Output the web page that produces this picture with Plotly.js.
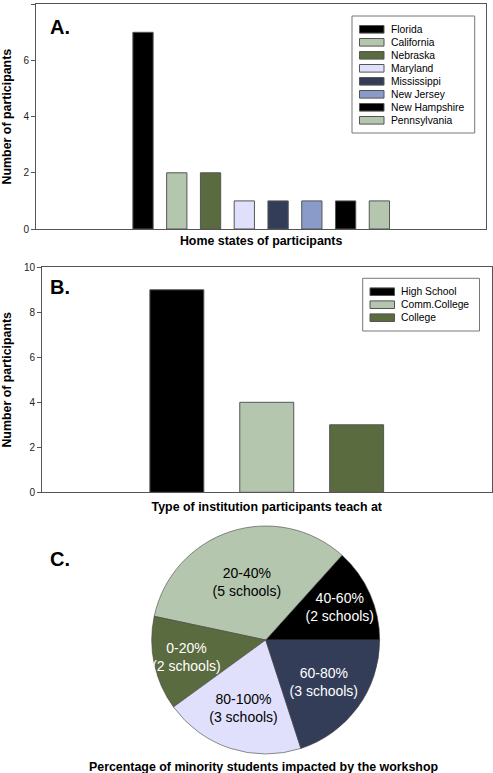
<!DOCTYPE html>
<html><head><meta charset="utf-8">
<script src="https://cdn.plot.ly/plotly-3.0.1.min.js"></script>
<style>html,body{margin:0;padding:0;background:#fff;} #chart{width:493px;height:773px;}</style>
</head><body><div id="chart"></div>
<script>
const W = 493, H = 773;
const FONT = 'Liberation Sans, Arial, Helvetica, sans-serif';

// Panel A data
const states = ['Florida','California','Nebraska','Maryland','Mississippi','New Jersey','New Hampshire','Pennsylvania'];
const stateCounts = [7,2,2,1,1,1,1,1];
const stateColors = ['#000000','#b4c6ae','#5b6b40','#e0e0fc','#333d58','#8a9bc9','#000000','#b4c6ae'];
const stateTicks = [0,2,4,6,8];

// Panel B data
const institutions = ['High School','Comm.College','College'];
const institutionCounts = [9,4,3];
const institutionColors = ['#000000','#b4c6ae','#5b6b40'];
const institutionTicks = [0,2,4,6,8,10];

// Panel C data
const minorityRanges = ['40-60%','20-40%','0-20%','80-100%','60-80%'];
const minoritySchools = [2,5,2,3,3];
const minorityColors = ['#000000','#b4c6ae','#5b6b40','#e0e0fc','#333d58'];
const minorityTextColors = ['#ffffff','#000000','#ffffff','#000000','#ffffff'];

const px = x => x / W;
const py = y => 1 - y / H;

const data = [];
states.forEach((s, i) => data.push({
  type: 'bar', name: s, x: [i], y: [stateCounts[i]], width: 0.6,
  marker: {color: stateColors[i], line: {color: '#555', width: 1}},
  xaxis: 'x', yaxis: 'y', showlegend: false, hoverinfo: 'skip'
}));
institutions.forEach((s, i) => data.push({
  type: 'bar', name: s, x: [i], y: [institutionCounts[i]], width: 0.6,
  marker: {color: institutionColors[i], line: {color: '#555', width: 1}},
  xaxis: 'x2', yaxis: 'y2', showlegend: false, hoverinfo: 'skip'
}));
// first slice (40-60%) starts at 3 o'clock and runs counterclockwise
const totalSchools = minoritySchools.reduce((a, b) => a + b, 0);
data.push({
  type: 'pie', sort: false, direction: 'counterclockwise',
  rotation: 90 - 360 * minoritySchools[0] / totalSchools,
  labels: minorityRanges, values: minoritySchools,
  text: minorityRanges.map((r, i) => r + '<br>(' + minoritySchools[i] + ' schools)'),
  textinfo: 'text', textposition: 'inside', insidetextorientation: 'horizontal',
  textfont: {family: FONT, size: 14, color: minorityTextColors},
  marker: {colors: minorityColors, line: {color: '#444', width: 0.6}},
  domain: {x: [px(151.7), px(379.7)], y: [py(754), py(526)]},
  showlegend: false, hoverinfo: 'skip'
});

const axisLine = {showline: true, mirror: true, linecolor: '#555', linewidth: 1, showgrid: false, zeroline: false};
const tickFont = {family: FONT, size: 10, color: '#222'};
const titleFont = {family: FONT, size: 12.4, color: '#000'};

const shapes = [];
const annotations = [];
function addLegend(labels, colors, box, row0, sw0, sw1, tx) {
  shapes.push({type: 'rect', xref: 'paper', yref: 'paper', x0: px(box[0]), x1: px(box[1]), y0: py(box[3]), y1: py(box[2]),
    line: {color: '#777', width: 1}, fillcolor: 'rgba(0,0,0,0)'});
  labels.forEach((l, i) => {
    const yc = row0 + 13 * i;
    shapes.push({type: 'rect', xref: 'paper', yref: 'paper', x0: px(sw0), x1: px(sw1), y0: py(yc + 3.8), y1: py(yc - 3.8),
      line: {color: '#555', width: 1}, fillcolor: colors[i]});
    annotations.push({xref: 'paper', yref: 'paper', x: px(tx), y: py(yc), xanchor: 'left', yanchor: 'middle',
      text: l, showarrow: false, font: {family: FONT, size: 10.3, color: '#000'}});
  });
}
addLegend(states, stateColors, [352, 474.7, 16, 133], 29.3, 359.5, 384, 389);
addLegend(institutions, institutionColors, [362.7, 479.5, 278.3, 331], 291.7, 370, 394.5, 399);

[['A.', 26.5], ['B.', 287], ['C.', 558.5]].forEach(([t, y]) => annotations.push({
  xref: 'paper', yref: 'paper', x: px(48), y: py(y), xanchor: 'left', yanchor: 'middle',
  text: '<b>' + t + '</b>', showarrow: false, font: {family: FONT, size: 20, color: '#000'}
}));
annotations.push({
  xref: 'paper', yref: 'paper', x: px(263), y: py(766.5), xanchor: 'center', yanchor: 'middle',
  text: '<b>Percentage of minority students impacted by the workshop</b>', showarrow: false, font: titleFont
});

const layout = {
  width: W, height: H, margin: {l: 0, r: 0, t: 0, b: 0},
  paper_bgcolor: '#fff', plot_bgcolor: '#fff', barmode: 'overlay',
  font: {family: FONT},
  uniformtext: {mode: 'show', minsize: 14},
  xaxis: Object.assign({}, axisLine, {domain: [px(36), px(486.3)], range: [-3.169, 10.166], showticklabels: false, ticks: '',
    title: {text: '<b>Home states of participants</b>', font: titleFont, standoff: 7}}),
  yaxis: Object.assign({}, axisLine, {domain: [py(229), py(4.2)], range: [0, 8], tickvals: stateTicks, ticks: 'outside', ticklen: 4,
    tickcolor: '#555', tickfont: tickFont, title: {text: '<b>Number of participants</b>', font: titleFont, standoff: 11}}),
  xaxis2: Object.assign({}, axisLine, {domain: [px(42), px(491.5)], range: [-1.5, 3.5], showticklabels: false, ticks: '', anchor: 'y2',
    title: {text: '<b>Type of institution participants teach at</b>', font: titleFont, standoff: 10}}),
  yaxis2: Object.assign({}, axisLine, {domain: [py(492.3), py(267.3)], range: [0, 10], tickvals: institutionTicks, ticks: 'outside', ticklen: 4,
    tickcolor: '#555', tickfont: tickFont, anchor: 'x2', title: {text: '<b>Number of participants</b>', font: titleFont, standoff: 11}}),
  shapes: shapes, annotations: annotations
};

Plotly.newPlot('chart', data, layout, {staticPlot: true, displayModeBar: false});
</script></body></html>
